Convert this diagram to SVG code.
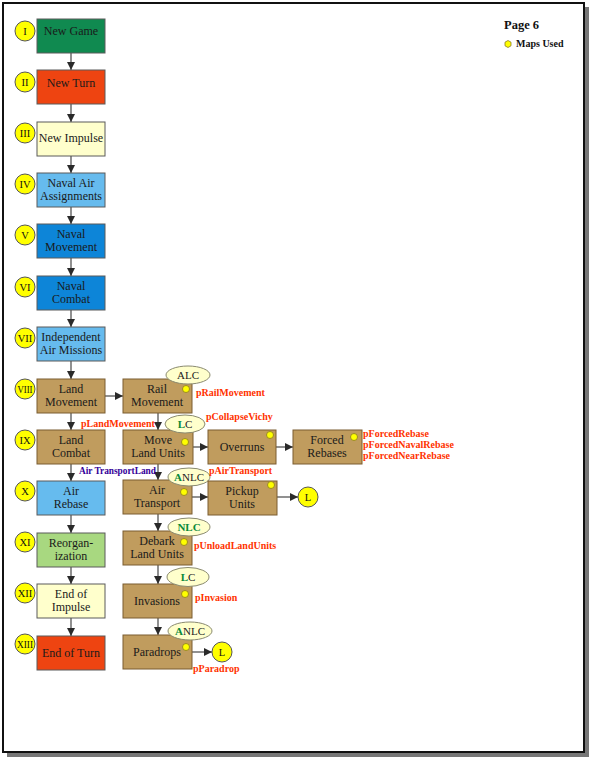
<svg xmlns="http://www.w3.org/2000/svg" width="590" height="757" viewBox="0 0 590 757">
<style>
.box{stroke:#5a5a5a;stroke-width:1}
.tan{fill:#c09c5e;stroke:#7a5c30;stroke-width:1}
.bt{font-family:"Liberation Serif",serif;font-size:12px;fill:#1a1a1a;text-anchor:middle}
.num{fill:#ffff00;stroke:#555;stroke-width:1}
.nt{font-family:"Liberation Serif",serif;font-size:10.5px;fill:#111;text-anchor:middle}
.dot{fill:#ffff00;stroke:#8a7a20;stroke-width:0.8}
.ell{fill:#ffffcc;stroke:#8a8a70;stroke-width:1}
.et{font-family:"Liberation Serif",serif;font-size:11px;fill:#222;text-anchor:middle}
.g{fill:#0a8a3a;font-weight:bold}
.lbl{font-family:"Liberation Serif",serif;font-size:10px;font-weight:bold;fill:#ff3300}
.conn{stroke:#555;stroke-width:1.3;fill:none;marker-end:url(#ah)}
</style>
<defs>
<marker id="ah" viewBox="0 0 10 10" refX="10" refY="5" markerWidth="8" markerHeight="8" markerUnits="userSpaceOnUse" orient="auto">
<path d="M0,0 L10,5 L0,10 z" fill="#2a2a2a"/>
</marker>
</defs>
<rect x="0" y="0" width="590" height="757" fill="#ffffff"/>
<g id="page">
<rect x="585" y="7" width="4" height="749" fill="#777"/>
<rect x="7" y="753" width="582" height="4" fill="#777"/>
<rect x="3" y="3" width="581" height="749" fill="#ffffff" stroke="#111" stroke-width="2"/>
</g>
<g id="legend">
<text x="504" y="29" font-family="Liberation Serif,serif" font-size="12.5" font-weight="bold" fill="#111">Page 6</text>
<polygon points="508,40.5 511,42.2 511,45.8 508,47.5 505,45.8 505,42.2" class="dot"/>
<text x="516" y="47" font-family="Liberation Serif,serif" font-size="10" font-weight="bold" fill="#111">Maps Used</text>
</g>
<g id="connectors">
<line class="conn" x1="71" y1="53" x2="71" y2="70"/>
<line class="conn" x1="71" y1="104" x2="71" y2="122"/>
<line class="conn" x1="71" y1="156" x2="71" y2="173"/>
<line class="conn" x1="71" y1="207" x2="71" y2="224"/>
<line class="conn" x1="71" y1="258" x2="71" y2="276"/>
<line class="conn" x1="71" y1="310" x2="71" y2="327"/>
<line class="conn" x1="71" y1="361" x2="71" y2="379"/>
<line class="conn" x1="71" y1="413" x2="71" y2="430"/>
<line class="conn" x1="71" y1="464" x2="71" y2="481"/>
<line class="conn" x1="71" y1="515" x2="71" y2="533"/>
<line class="conn" x1="71" y1="567" x2="71" y2="584"/>
<line class="conn" x1="71" y1="618" x2="71" y2="636"/>
<line class="conn" x1="105" y1="396" x2="123" y2="396"/>
<line class="conn" x1="158" y1="413" x2="158" y2="430"/>
<line class="conn" x1="193" y1="447" x2="208" y2="447"/>
<line class="conn" x1="276" y1="447" x2="293" y2="447"/>
<line class="conn" x1="158" y1="464" x2="158" y2="480"/>
<line class="conn" x1="192" y1="497" x2="208" y2="497"/>
<line class="conn" x1="277" y1="497" x2="298" y2="497"/>
<line class="conn" x1="158" y1="514" x2="158" y2="531"/>
<line class="conn" x1="158" y1="565" x2="158" y2="584"/>
<line class="conn" x1="158" y1="618" x2="158" y2="635"/>
<line class="conn" x1="192" y1="652" x2="212" y2="652"/>
</g>
<g id="n1"><rect class="box" x="37" y="19" width="68" height="34" fill="#108a50"/><text class="bt" x="71" y="35">New Game</text><circle class="num" cx="25" cy="31" r="10"/><text class="nt" x="25" y="35">I</text></g>
<g id="n2"><rect class="box" x="37" y="70" width="68" height="34" fill="#ee4411"/><text class="bt" x="71" y="87">New Turn</text><circle class="num" cx="25" cy="82" r="10"/><text class="nt" x="25" y="86">II</text></g>
<g id="n3"><rect class="box" x="37" y="122" width="68" height="34" fill="#ffffcc" stroke="#999"/><text class="bt" x="71" y="142">New Impulse</text><circle class="num" cx="25" cy="133" r="10"/><text class="nt" x="25" y="137">III</text></g>
<g id="n4"><rect class="box" x="37" y="173" width="68" height="34" fill="#66bbee"/><text class="bt" x="71" y="187">Naval Air</text><text class="bt" x="71" y="200">Assignments</text><circle class="num" cx="25" cy="184" r="10"/><text class="nt" x="25" y="188">IV</text></g>
<g id="n5"><rect class="box" x="37" y="224" width="68" height="34" fill="#0d85d8"/><text class="bt" x="71" y="238">Naval</text><text class="bt" x="71" y="251">Movement</text><circle class="num" cx="25" cy="235" r="10"/><text class="nt" x="25" y="239">V</text></g>
<g id="n6"><rect class="box" x="37" y="276" width="68" height="34" fill="#0d85d8"/><text class="bt" x="71" y="290">Naval</text><text class="bt" x="71" y="303">Combat</text><circle class="num" cx="25" cy="287" r="10"/><text class="nt" x="25" y="291">VI</text></g>
<g id="n7"><rect class="box" x="37" y="327" width="68" height="34" fill="#66bbee"/><text class="bt" x="71" y="341">Independent</text><text class="bt" x="71" y="354">Air Missions</text><circle class="num" cx="25" cy="338" r="10"/><text class="nt" x="25" y="342">VII</text></g>
<g id="n8"><rect class="tan" x="37" y="379" width="68" height="34"/><text class="bt" x="71" y="393">Land</text><text class="bt" x="71" y="406">Movement</text><circle class="num" cx="25" cy="389" r="10"/><text class="nt" x="25" y="393" textLength="15" lengthAdjust="spacingAndGlyphs">VIII</text></g>
<g id="n9"><rect class="tan" x="37" y="430" width="68" height="34"/><text class="bt" x="71" y="444">Land</text><text class="bt" x="71" y="457">Combat</text><circle class="num" cx="25" cy="440" r="10"/><text class="nt" x="25" y="444">IX</text></g>
<g id="n10"><rect class="box" x="37" y="481" width="68" height="34" fill="#66bbee"/><text class="bt" x="71" y="495">Air</text><text class="bt" x="71" y="508">Rebase</text><circle class="num" cx="25" cy="491" r="10"/><text class="nt" x="25" y="495">X</text></g>
<g id="n11"><rect class="box" x="37" y="533" width="68" height="34" fill="#a8d880"/><text class="bt" x="71" y="547">Reorgan-</text><text class="bt" x="71" y="560">ization</text><circle class="num" cx="25" cy="542" r="10"/><text class="nt" x="25" y="546">XI</text></g>
<g id="n12"><rect class="box" x="37" y="584" width="68" height="34" fill="#ffffcc" stroke="#999"/><text class="bt" x="71" y="598">End of</text><text class="bt" x="71" y="611">Impulse</text><circle class="num" cx="25" cy="593" r="10"/><text class="nt" x="25" y="597">XII</text></g>
<g id="n13"><rect class="box" x="37" y="636" width="68" height="34" fill="#ee4411"/><text class="bt" x="71" y="657">End of Turn</text><circle class="num" cx="25" cy="644" r="10"/><text class="nt" x="25" y="648" textLength="16" lengthAdjust="spacingAndGlyphs">XIII</text></g>
<g id="rail"><rect class="tan" x="123" y="379" width="69" height="34"/><text class="bt" x="157" y="393">Rail</text><text class="bt" x="157" y="406">Movement</text><circle class="dot" cx="186" cy="389" r="3.5"/><ellipse class="ell" cx="188" cy="375" rx="22" ry="9"/><text class="et" x="188" y="379">ALC</text></g>
<g id="move"><rect class="tan" x="123" y="430" width="70" height="34"/><text class="bt" x="158" y="444">Move</text><text class="bt" x="158" y="457">Land Units</text><circle class="dot" cx="185" cy="442" r="3.5"/><ellipse class="ell" cx="185" cy="424" rx="20" ry="9"/><text class="et" x="185" y="428"><tspan class="g">L</tspan>C</text></g>
<g id="overruns"><rect class="tan" x="208" y="430" width="68" height="34"/><text class="bt" x="242" y="451">Overruns</text><circle class="dot" cx="270" cy="435" r="3.5"/></g>
<g id="forced"><rect class="tan" x="293" y="430" width="69" height="34"/><text class="bt" x="327" y="444">Forced</text><text class="bt" x="327" y="457">Rebases</text><circle class="dot" cx="354" cy="437" r="3.5"/></g>
<g id="airtransport"><rect class="tan" x="123" y="480" width="69" height="34"/><text class="bt" x="157" y="494">Air</text><text class="bt" x="157" y="507">Transport</text><circle class="dot" cx="184" cy="492" r="3.5"/><ellipse class="ell" cx="189" cy="477" rx="21" ry="9"/><text class="et" x="189" y="481"><tspan class="g">A</tspan>NLC</text></g>
<g id="pickup"><rect class="tan" x="208" y="481" width="69" height="34"/><text class="bt" x="242" y="495">Pickup</text><text class="bt" x="242" y="508">Units</text><circle class="dot" cx="271" cy="485" r="3.5"/></g>
<g id="L1"><circle class="num" cx="308" cy="497" r="10"/><text class="nt" x="308" y="501">L</text></g>
<g id="debark"><rect class="tan" x="123" y="531" width="69" height="34"/><text class="bt" x="157" y="545">Debark</text><text class="bt" x="157" y="558">Land Units</text><circle class="dot" cx="184" cy="542" r="3.5"/><ellipse class="ell" cx="189" cy="527" rx="21" ry="9"/><text class="et g" x="189" y="531">NLC</text></g>
<g id="invasions"><rect class="tan" x="123" y="584" width="69" height="34"/><text class="bt" x="157" y="605">Invasions</text><circle class="dot" cx="185" cy="594" r="3.5"/><ellipse class="ell" cx="188" cy="577" rx="21" ry="9.5"/><text class="et" x="188" y="581"><tspan class="g">L</tspan>C</text></g>
<g id="paradrops"><rect class="tan" x="123" y="635" width="69" height="34"/><text class="bt" x="157" y="656">Paradrops</text><circle class="dot" cx="186" cy="647" r="3.5"/><ellipse class="ell" cx="190" cy="631" rx="22" ry="9"/><text class="et" x="190" y="635"><tspan class="g">A</tspan>NLC</text></g>
<g id="L2"><circle class="num" cx="222" cy="652" r="10"/><text class="nt" x="222" y="656">L</text></g>
<g id="labels">
<text class="lbl" x="81" y="427">pLandMovement</text>
<text class="lbl" x="79" y="474" style="fill:#330099" textLength="77" lengthAdjust="spacingAndGlyphs">Air TransportLand</text>
<text class="lbl" x="196" y="396">pRailMovement</text>
<text class="lbl" x="206" y="420">pCollapseVichy</text>
<text class="lbl" x="209" y="474">pAirTransport</text>
<text class="lbl" x="363" y="437">pForcedRebase</text>
<text class="lbl" x="363" y="448">pForcedNavalRebase</text>
<text class="lbl" x="363" y="459">pForcedNearRebase</text>
<text class="lbl" x="194" y="549">pUnloadLandUnits</text>
<text class="lbl" x="195" y="601">pInvasion</text>
<text class="lbl" x="193" y="672">pParadrop</text>
</g>
</svg>
